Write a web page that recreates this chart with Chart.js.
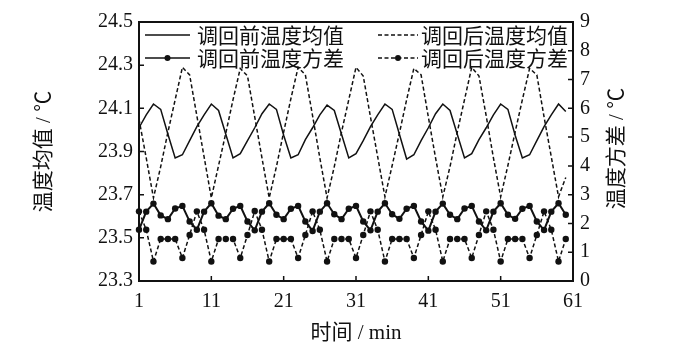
<!DOCTYPE html>
<html><head><meta charset="utf-8">
<script src="https://cdn.jsdelivr.net/npm/chart.js@4.4.1/dist/chart.umd.min.js"></script>
<style>html,body{margin:0;padding:0;background:#fff;}#wrap{width:678px;height:359px;position:relative;}</style>
</head><body><div id="wrap"><canvas id="c" width="678" height="359"></canvas></div>
<script>
// ---- data ----
const minutes = [1,2,3,4,5,6,7,8,9,10,11,12,13,14,15,16,17,18,19,20,21,22,23,24,25,26,27,28,29,30,
  31,32,33,34,35,36,37,38,39,40,41,42,43,44,45,46,47,48,49,50,51,52,53,54,55,56,57,58,59,60];
const seriesNames = ['调回前温度均值','调回后温度均值','调回前温度方差','调回后温度方差'];
const meanBefore = [24.01,24.07,24.12,24.095,23.98,23.87,23.885,23.95,
  24.015,24.07,24.12,24.09,23.98,23.87,23.89,23.95,
  24.01,24.075,24.12,24.095,23.975,23.87,23.885,23.955,
  24.01,24.07,24.115,24.09,23.98,23.87,23.89,23.95,
  24.015,24.07,24.12,24.095,23.98,23.865,23.885,23.95,
  24.01,24.075,24.12,24.09,23.98,23.87,23.89,23.955,
  24.01,24.07,24.12,24.095,23.975,23.87,23.885,23.95,
  24.015,24.07,24.12,24.085];
const meanAfter = [24.05,23.87,23.685,23.83,23.99,24.14,24.29,24.255,
  24.065,23.875,23.685,23.835,23.985,24.14,24.285,24.25,
  24.06,23.87,23.685,23.83,23.99,24.145,24.29,24.255,
  24.065,23.87,23.685,23.83,23.99,24.14,24.29,24.25,
  24.06,23.875,23.69,23.835,23.985,24.14,24.285,24.255,
  24.06,23.87,23.69,23.83,23.99,24.14,24.29,24.25,
  24.065,23.87,23.69,23.835,23.99,24.14,24.285,24.255,
  24.06,23.875,23.69,23.78];
const varBefore = [1.78,2.41,2.69,2.28,2.15,2.52,2.61,2.07,
  1.78,2.41,2.70,2.27,2.15,2.51,2.61,2.07,
  1.76,2.41,2.70,2.30,2.15,2.51,2.61,2.07,
  1.74,2.41,2.70,2.32,2.15,2.51,2.61,2.07,
  1.76,2.41,2.70,2.32,2.16,2.51,2.61,2.07,
  1.75,2.41,2.69,2.30,2.15,2.52,2.61,2.07,
  1.76,2.41,2.70,2.30,2.16,2.51,2.61,2.07,
  1.77,2.41,2.70,2.30];
const varAfter = [2.42,1.78,0.68,1.46,1.46,1.46,0.80,1.60,
  2.42,1.78,0.68,1.46,1.46,1.46,0.80,1.60,
  2.43,1.78,0.68,1.46,1.46,1.46,0.80,1.60,
  2.42,1.78,0.68,1.46,1.46,1.46,0.80,1.60,
  2.42,1.78,0.68,1.46,1.46,1.46,0.80,1.60,
  2.42,1.78,0.68,1.46,1.46,1.46,0.80,1.60,
  2.42,1.78,0.68,1.46,1.46,1.46,0.80,1.60,
  2.42,1.78,0.68,1.46];
const xTicks = [1,11,21,31,41,51,61];
const yLeftTicks = [23.3,23.5,23.7,23.9,24.1,24.3,24.5];
const yRightTicks = [0,1,2,3,4,5,6,7,8,9];
const xTitle = '时间 / min';
const yLeftTitle = '温度均值 / ℃';
const yRightTitle = '温度方差 / ℃';

// ---- styles ----
const INK = '#111';
const SERIF = "'Liberation Serif', 'Noto Sans CJK SC', serif";
const CJK = "'Noto Sans CJK SC', 'Liberation Serif', sans-serif";
const DASH = [4, 2.5];
const toXY = vals => vals.map((v, i) => ({x: minutes[i], y: v}));

const frameAndLegend = {
  id: 'frameAndLegend',
  afterDraw(chart) {
    const {ctx, chartArea: a, scales} = chart;
    ctx.save();
    ctx.strokeStyle = INK;
    ctx.setLineDash([]);
    // ticks (inward)
    ctx.lineWidth = 1.5;
    ctx.beginPath();
    xTicks.forEach(v => { const px = scales.x.getPixelForValue(v); ctx.moveTo(px, a.bottom); ctx.lineTo(px, a.bottom - 5); });
    yLeftTicks.forEach(v => { const py = scales.y.getPixelForValue(v); ctx.moveTo(a.left, py); ctx.lineTo(a.left + 5, py); });
    yRightTicks.forEach(v => { const py = scales.y2.getPixelForValue(v); ctx.moveTo(a.right, py); ctx.lineTo(a.right - 5, py); });
    ctx.stroke();
    // frame
    ctx.lineWidth = 2;
    ctx.strokeRect(a.left, a.top, a.right - a.left, a.bottom - a.top);
    // right title (reads bottom to top)
    ctx.fillStyle = INK;
    ctx.font = '21px ' + SERIF;
    ctx.textAlign = 'center';
    ctx.textBaseline = 'middle';
    ctx.translate(617, (a.top + a.bottom) / 2 - 3);
    ctx.rotate(-Math.PI / 2);
    ctx.fillText(yRightTitle, 0, 0);
    ctx.restore();

    // legend inside plot
    const rows = [a.top + 13, a.top + 36];
    const cols = [{x: a.left + 6, w: 45, tx: a.left + 58}, {x: a.left + 239, w: 40, tx: a.left + 282}];
    ctx.save();
    chart.data.datasets.forEach((ds, i) => {
      const r = rows[Math.floor(i / 2)], c = cols[i % 2];
      ctx.strokeStyle = INK;
      ctx.lineWidth = 1.5;
      ctx.setLineDash(ds.borderDash || []);
      ctx.beginPath(); ctx.moveTo(c.x, r); ctx.lineTo(c.x + c.w, r); ctx.stroke();
      if (ds.pointRadius > 0) {
        ctx.setLineDash([]);
        ctx.fillStyle = INK;
        ctx.beginPath(); ctx.arc(c.x + c.w / 2, r, 3, 0, Math.PI * 2); ctx.fill();
      }
      ctx.fillStyle = INK;
      ctx.font = '21px ' + CJK;
      ctx.textAlign = 'left';
      ctx.textBaseline = 'middle';
      ctx.fillText(ds.label, c.tx, r);
    });
    ctx.restore();
  }
};

new Chart(document.getElementById('c'), {
  type: 'line',
  data: {
    datasets: [
      {label: seriesNames[0], data: toXY(meanBefore), yAxisID: 'y', borderColor: INK, borderWidth: 1.5, pointRadius: 0, tension: 0, clip: false},
      {label: seriesNames[1], data: toXY(meanAfter), yAxisID: 'y', borderColor: INK, borderWidth: 1.5, borderDash: DASH, pointRadius: 0, tension: 0, clip: false},
      {label: seriesNames[2], data: toXY(varBefore), yAxisID: 'y2', borderColor: INK, borderWidth: 2, pointRadius: 3.2, pointBackgroundColor: INK, pointBorderWidth: 0, tension: 0, clip: false},
      {label: seriesNames[3], data: toXY(varAfter), yAxisID: 'y2', borderColor: INK, borderWidth: 1.5, borderDash: DASH, pointRadius: 3.2, pointBackgroundColor: INK, pointBorderWidth: 0, tension: 0, clip: false}
    ]
  },
  options: {
    responsive: false,
    animation: false,
    events: [],
    layout: {padding: {top: 22, left: 0, right: 0, bottom: 0}},
    plugins: {legend: {display: false}, tooltip: {enabled: false}},
    scales: {
      x: {
        type: 'linear', min: 1, max: 61,
        afterBuildTicks: s => { s.ticks = xTicks.map(v => ({value: v})); },
        afterFit: s => { s.height = 78; },
        grid: {display: false, drawTicks: false}, border: {display: false},
        ticks: {font: {family: SERIF, size: 20}, color: INK, padding: 9, maxRotation: 0, autoSkip: false},
        title: {display: true, text: xTitle, font: {family: SERIF, size: 21}, color: INK, padding: {top: 0, bottom: 13}}
      },
      y: {
        type: 'linear', position: 'left', min: 23.3, max: 24.5,
        afterBuildTicks: s => { s.ticks = yLeftTicks.map(v => ({value: v})); },
        afterFit: s => { s.width = 139; },
        grid: {display: false, drawTicks: false}, border: {display: false},
        ticks: {font: {family: SERIF, size: 20}, color: INK, padding: 6, callback: v => Number(v).toFixed(1)},
        title: {display: true, text: yLeftTitle, font: {family: SERIF, size: 21}, color: INK, padding: {top: 32, bottom: 0}}
      },
      y2: {
        type: 'linear', position: 'right', min: 0, max: 9,
        afterBuildTicks: s => { s.ticks = yRightTicks.map(v => ({value: v})); },
        afterFit: s => { s.width = 105; },
        grid: {display: false, drawTicks: false}, border: {display: false},
        ticks: {font: {family: SERIF, size: 20}, color: INK, padding: 7, callback: v => String(v)}
      }
    }
  },
  plugins: [frameAndLegend]
});
</script>
</body></html>
